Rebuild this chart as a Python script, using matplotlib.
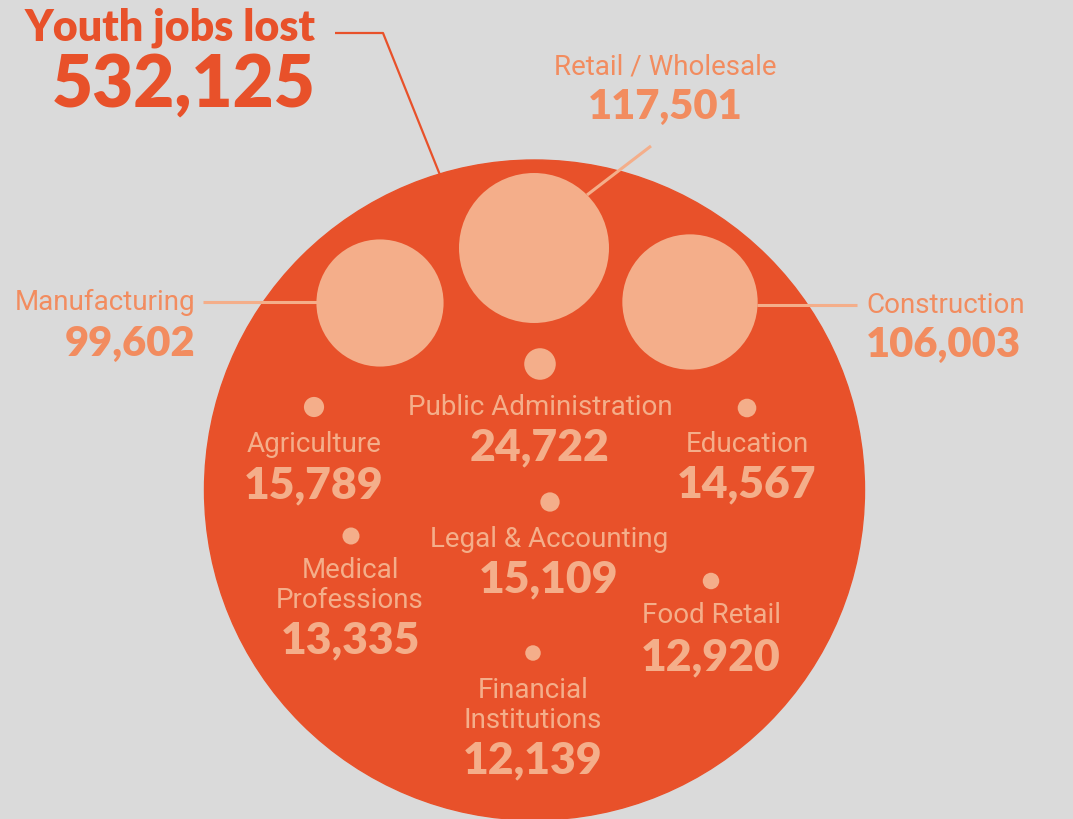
import matplotlib
matplotlib.use("Agg")
import matplotlib.pyplot as plt
from matplotlib.patches import Circle

# ---- data ----
total_label = "Youth jobs lost"
total_value = 532125
sectors = ["Retail / Wholesale", "Manufacturing", "Construction",
           "Public Administration", "Agriculture", "Education",
           "Legal & Accounting", "Medical\nProfessions", "Food Retail",
           "Financial\nInstitutions"]
jobs_lost = [117501, 99602, 106003, 24722, 15789, 14567, 15109, 13335, 12920, 12139]

# ---- layout (pixel coordinates) ----
W, H = 1073, 820
bubble_xy = [(534, 249), (380, 304), (690, 303), (540, 365), (314, 408),
             (747, 409), (550, 503), (351, 537), (711, 582), (533, 654)]
# label placement: (x, label baseline, number baseline, ha, inside)
label_pos = [(665, 74, 119, "center", False),
             (195, 310, 356, "right", False),
             (866, 313, 357, "left", False),
             (540, 415, 460, "center", True),
             (314, 452, 498, "center", True),
             (747, 452, 497, "center", True),
             (549, 547, 592, "center", True),
             (350, 608, 653, "center", True),
             (711, 623, 670, "center", True),
             (533, 728, 773, "center", True)]

BG = "#dadada"
RED = "#e8512a"
PALE = "#f4ae8a"
OUT = "#f28c5f"

NUMFONT = ["Lato", "DejaVu Sans"]
LABFONT = ["Roboto", "DejaVu Sans"]

fig = plt.figure(figsize=(W / 100, H / 100), dpi=100, facecolor=BG)
ax = fig.add_axes([0, 0, 1, 1])
ax.set_xlim(0, W)
ax.set_ylim(H, 0)
ax.set_facecolor(BG)
ax.axis("off")

# big circle
ax.add_patch(Circle((534.5, 491), 330, color=RED, zorder=1))

# bubbles: radius proportional to value
scale = 75 / max(jobs_lost)
for (x, y), v in zip(bubble_xy, jobs_lost):
    ax.add_patch(Circle((x, y), v * scale, color=PALE, zorder=2, lw=0))

# leader lines
ax.plot([335, 383, 440], [34, 34, 176], color=RED, lw=1.6, zorder=3,
        solid_capstyle="butt")
ax.plot([651, 587], [147, 196], color=PALE, lw=2.2, zorder=3, solid_capstyle="butt")
ax.plot([757, 857], [306, 306], color=PALE, lw=2.2, zorder=1.5, solid_capstyle="butt")
ax.plot([203, 319], [303, 303], color=PALE, lw=2.2, zorder=1.5, solid_capstyle="butt")

# title
ax.text(316, 40, total_label, ha="right", va="baseline", color=RED,
        fontsize=31, fontweight="heavy", family=NUMFONT)
ax.text(316, 107, f"{total_value:,}", ha="right", va="baseline", color=RED,
        fontsize=51, fontweight="heavy", family=NUMFONT)

for name, v, (x, yl, yn, ha, inside) in zip(sectors, jobs_lost, label_pos):
    col = PALE if inside else OUT
    nsize = 32 if inside else 30
    ax.text(x, yl, name, ha=ha, va="baseline", color=col, fontsize=20,
            fontweight="normal", family=LABFONT, linespacing=1.12,
            multialignment="center", zorder=4)
    ax.text(x, yn, f"{v:,}", ha=ha, va="baseline", color=col, fontsize=nsize,
            fontweight="heavy", family=NUMFONT, zorder=4)

fig.savefig("out.png", dpi=100, facecolor=BG)
